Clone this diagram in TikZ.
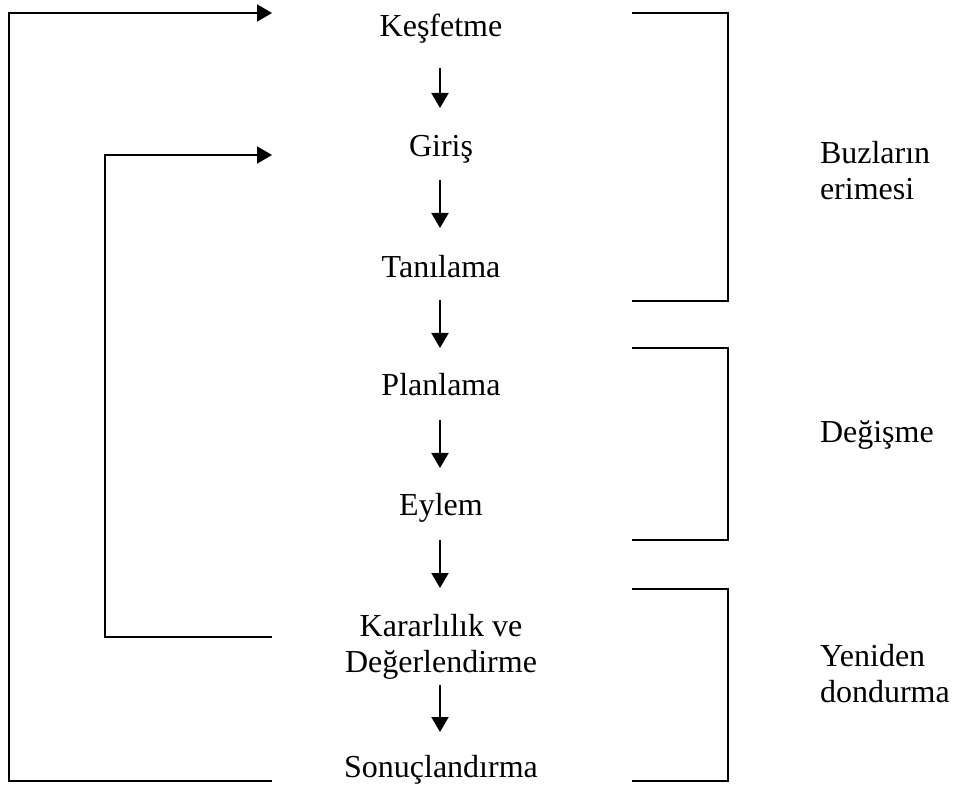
\documentclass[tikz,border=0pt]{standalone}
\usepackage{fontspec}
\setmainfont{Liberation Serif}
\usetikzlibrary{arrows.meta,calc}
\begin{document}
\begin{tikzpicture}[x=0.5pt,y=-0.5pt,line width=1pt,line join=miter,
  stage/.style={font=\fontsize{16}{18}\selectfont,anchor=base,inner sep=0pt,align=center},
  phase/.style={font=\fontsize{16}{18}\selectfont,anchor=base west,inner sep=0pt,align=left},
  flow/.style={-{Triangle[length=7.5pt,width=8.5pt]}},
  bracket/.style={draw}]
\useasboundingbox (0,0) rectangle (954,791);

% stages of the process, top to bottom (base = baseline of the last line)
\node[stage] (kes) at (441,37)  {Keşfetme};
\node[stage] (gir) at (441,157) {Giriş};
\node[stage] (tan) at (441,278) {Tanılama};
\node[stage] (pla) at (441,396) {Planlama};
\node[stage] (eyl) at (441,516) {Eylem};
\node[stage] (kar) at (441,672) {Kararlılık ve\\Değerlendirme};
\node[stage] (son) at (441,777) {Sonuçlandırma};

% downward flow between stages
\draw[flow] ($(kes.base)+(-1,31)$) -- ($(gir.base)+(-1,-49)$);
\draw[flow] ($(gir.base)+(-1,23)$) -- ($(tan.base)+(-1,-50)$);
\draw[flow] ($(tan.base)+(-1,22)$) -- ($(pla.base)+(-1,-48)$);
\draw[flow] ($(pla.base)+(-1,24)$) -- ($(eyl.base)+(-1,-48)$);
\draw[flow] ($(eyl.base)+(-1,24)$) -- ($(kar.base)+(-1,-84)$);
\draw[flow] ($(kar.base)+(-1,13)$) -- ($(son.base)+(-1,-45)$);

% feedback loops
\coordinate (sonOut) at (272,781);
\coordinate (outerBot) at (9,781);
\coordinate (outerTop) at (9,13);
\coordinate (kesIn) at (272,13);
\draw[flow] (sonOut) -- (outerBot) -- (outerTop) -- (kesIn);

\coordinate (karOut) at (272,637);
\coordinate (innerBot) at (105,637);
\coordinate (innerTop) at (105,155);
\coordinate (girIn) at (272,155);
\draw[flow] (karOut) -- (innerBot) -- (innerTop) -- (girIn);

% phase brackets
\draw[bracket] (632,13)  -| (728,301) -- (632,301);
\draw[bracket] (632,348) -| (728,540) -- (632,540);
\draw[bracket] (632,589) -| (728,781) -- (632,781);

% phase labels
\node[phase] (buz) at (819,200) {Buzların\\erimesi};
\node[phase] (deg) at (819,443) {Değişme};
\node[phase] (yen) at (819,702) {Yeniden\\dondurma};
\end{tikzpicture}
\end{document}
